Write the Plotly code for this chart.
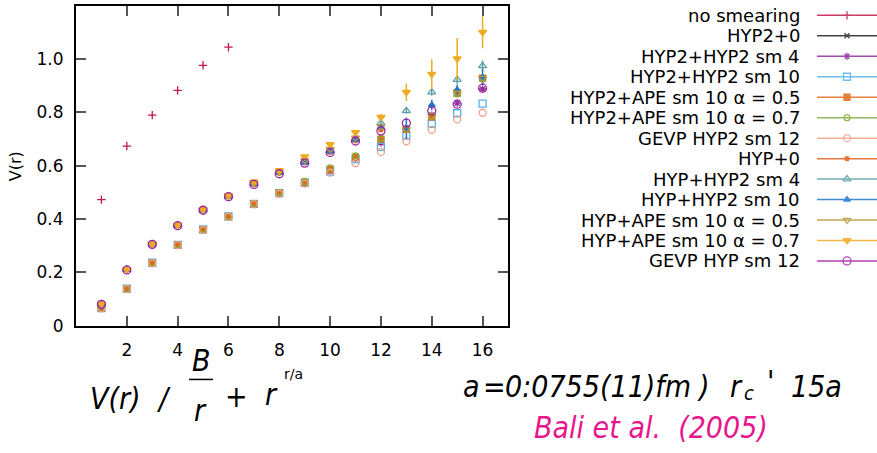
import plotly.graph_objects as go

# ---------------- data ----------------
r_all = list(range(1, 17))
r_short = list(range(1, 13))
r_nosm = [1, 2, 3, 4, 5, 6]

v_no_smearing = [0.473, 0.674, 0.790, 0.883, 0.977, 1.045]

v_hyp2_0 = [0.065, 0.138, 0.235, 0.303, 0.360, 0.409, 0.456, 0.498, 0.537, 0.580, 0.627, 0.690]
v_hyp2_hyp2_sm4 = [0.065, 0.138, 0.235, 0.303, 0.360, 0.409, 0.456, 0.498, 0.537, 0.582, 0.628, 0.686, 0.735, 0.790, 0.835, 0.888]
v_hyp2_hyp2_sm10 = [0.066, 0.139, 0.236, 0.303, 0.361, 0.410, 0.457, 0.497, 0.536, 0.578, 0.625, 0.671, 0.713, 0.757, 0.797, 0.833]
v_hyp2_ape05 = [0.065, 0.138, 0.235, 0.303, 0.360, 0.409, 0.456, 0.498, 0.538, 0.586, 0.632, 0.700, 0.737, 0.784, 0.873, 0.929]
v_hyp2_ape07 = [0.066, 0.139, 0.236, 0.304, 0.361, 0.410, 0.458, 0.500, 0.541, 0.592, 0.637, 0.702, 0.740, 0.787, 0.870, 0.926]
v_gevp_hyp2 = [0.065, 0.137, 0.234, 0.302, 0.359, 0.408, 0.455, 0.495, 0.533, 0.574, 0.610, 0.652, 0.692, 0.735, 0.774, 0.799]

v_hyp_0 = [0.080, 0.209, 0.305, 0.375, 0.433, 0.484, 0.530, 0.572, 0.611, 0.651, 0.694, 0.735]
v_hyp_hyp2_sm4 = [0.081, 0.210, 0.306, 0.376, 0.434, 0.486, 0.533, 0.575, 0.615, 0.657, 0.702, 0.760, 0.806, 0.876, 0.923, 0.975]
e_hyp_hyp2_sm4 = [0.002, 0.002, 0.002, 0.003, 0.003, 0.003, 0.004, 0.004, 0.005, 0.005, 0.006, 0.008, 0.010, 0.012, 0.015, 0.020]
v_hyp_hyp2_sm10 = [0.080, 0.209, 0.305, 0.375, 0.433, 0.485, 0.531, 0.573, 0.612, 0.653, 0.697, 0.745, 0.741, 0.828, 0.885, 0.932]
e_hyp_hyp2_sm10 = [0.002, 0.002, 0.002, 0.003, 0.003, 0.003, 0.004, 0.004, 0.005, 0.005, 0.006, 0.008, 0.040, 0.020, 0.020, 0.030]
v_hyp_ape05 = [0.081, 0.210, 0.306, 0.376, 0.434, 0.486, 0.534, 0.577, 0.620, 0.662, 0.705, 0.748, 0.737, 0.785, 0.873, 0.929]
v_hyp_ape07 = [0.082, 0.211, 0.307, 0.378, 0.436, 0.489, 0.540, 0.583, 0.634, 0.680, 0.725, 0.782, 0.876, 0.944, 1.002, 1.101]
e_hyp_ape07 = [0.003, 0.003, 0.003, 0.004, 0.004, 0.005, 0.006, 0.006, 0.007, 0.008, 0.010, 0.012, 0.033, 0.056, 0.077, 0.060]
v_gevp_hyp = [0.080, 0.209, 0.305, 0.375, 0.433, 0.484, 0.530, 0.570, 0.610, 0.650, 0.693, 0.731, 0.760, 0.806, 0.831, 0.891]

x_ticks = [2, 4, 6, 8, 10, 12, 14, 16]
y_ticks = [0, 0.2, 0.4, 0.6, 0.8, 1.0]
y_ticktext = ["0", "0.2", "0.4", "0.6", "0.8", "1.0"]

series = [
    ("no smearing", r_nosm, v_no_smearing, None, "#c0184a", "cross-thin-open", 6),
    ("HYP2+0", r_short, v_hyp2_0, None, "#222222", "x-thin-open", 5),
    ("HYP2+HYP2 sm 4", r_all, v_hyp2_hyp2_sm4, None, "#8e2d9e", "asterisk-open", 6),
    ("HYP2+HYP2 sm 10", r_all, v_hyp2_hyp2_sm10, None, "#56b4e9", "square-open", 7),
    ("HYP2+APE sm 10 α = 0.5", r_all, v_hyp2_ape05, None, "#e06a1b", "square", 6),
    ("HYP2+APE sm 10 α = 0.7", r_all, v_hyp2_ape07, None, "#7fb03a", "circle-open", 6),
    ("GEVP HYP2 sm 12", r_all, v_gevp_hyp2, None, "#f4a08a", "circle-open", 7),
    ("HYP+0", r_short, v_hyp_0, None, "#e55e1a", "circle", 4),
    ("HYP+HYP2 sm 4", r_all, v_hyp_hyp2_sm4, e_hyp_hyp2_sm4, "#5a9ea6", "triangle-up-open", 7),
    ("HYP+HYP2 sm 10", r_all, v_hyp_hyp2_sm10, e_hyp_hyp2_sm10, "#1f78c8", "triangle-up", 6),
    ("HYP+APE sm 10 α = 0.5", r_all, v_hyp_ape05, None, "#b8963a", "triangle-down-open", 7),
    ("HYP+APE sm 10 α = 0.7", r_all, v_hyp_ape07, e_hyp_ape07, "#eeab22", "triangle-down", 7),
    ("GEVP HYP sm 12", r_all, v_gevp_hyp, None, "#a020a8", "circle-open", 8),
]

W, H = 877, 453
PX_L, PX_R, PX_T, PX_B = 76, 508, 6, 333


def px(x):
    return x / W


def py(y):
    return 1 - y / H


fig = go.Figure()

for name, xs, ys, es, col, sym, sz in series:
    err = None
    if es is not None:
        err = dict(type="data", array=es, visible=True, color=col, thickness=1.5, width=0)
    fig.add_trace(go.Scatter(
        x=xs, y=ys, mode="markers", name=name, showlegend=False,
        marker=dict(symbol=sym, size=sz, color=col, line=dict(color=col, width=1.3)),
        error_y=err, xaxis="x", yaxis="y",
    ))

# custom gnuplot-style key (text right, sample line + symbol on the right)
KEY_TEXT_X = 802
KEY_Y0 = 15.7
KEY_DY = 20.93
KEY_L, KEY_M, KEY_R = 817, 847, 877
annotations = []
for i, (name, xs, ys, es, col, sym, sz) in enumerate(series):
    yk = KEY_Y0 + KEY_DY * i
    fig.add_trace(go.Scatter(
        x=[KEY_L, KEY_M, KEY_R], y=[yk, yk, yk], mode="lines+markers", showlegend=False,
        line=dict(color=col, width=1.5),
        marker=dict(symbol=sym, size=sz, color=col, opacity=[0, 1, 0], line=dict(color=col, width=1.3)),
        xaxis="x2", yaxis="y2", opacity=0.85, hoverinfo="skip",
    ))
    annotations.append(dict(
        x=px(KEY_TEXT_X), y=py(yk), xref="paper", yref="paper", text=name,
        showarrow=False, xanchor="right", yanchor="middle",
        font=dict(family="DejaVu Sans", size=18, color="black"),
    ))

# axis titles
annotations.append(dict(x=px(15), y=py(170), xref="paper", yref="paper", text="V(r)",
                        textangle=-90, showarrow=False, xanchor="center", yanchor="middle",
                        font=dict(family="DejaVu Sans", size=16, color="black")))
annotations.append(dict(x=px(293), y=py(382), xref="paper", yref="paper", text="r/a",
                        showarrow=False, xanchor="center", yanchor="middle",
                        font=dict(family="DejaVu Sans", size=14, color="black")))

# formula texts below the plot
FF = "DejaVu Sans Condensed, Liberation Sans Narrow, Liberation Sans"
FS = 30
DY = 9


def txt(x, y, s, size=FS, color="black", anchor="center"):
    annotations.append(dict(x=px(x), y=py(y + DY), xref="paper", yref="paper", text="<i>" + s + "</i>",
                            showarrow=False, xanchor=anchor, yanchor="middle",
                            font=dict(family=FF, size=size, color=color)))


txt(116, 398, "V(r)")
txt(164, 398, "/")
txt(201, 360, "B")
txt(200, 411, "r")
txt(236, 396, "+")
txt(271, 394, "r")

txt(471, 386, "a")
txt(494, 386, "=")
txt(598, 386, "0:0755(11)fm")
txt(703, 386, ")")
txt(736, 386, "r")
txt(749, 393, "c", size=20)
txt(770, 381, "'")
txt(816, 386, "15a")
txt(651, 428, "Bali et al.  (2005)", color="#e8168c")

shapes = [dict(type="line", xref="paper", yref="paper", x0=px(189), x1=px(213), y0=py(388), y1=py(388),
               line=dict(color="black", width=1.5))]

axis_common = dict(showgrid=False, zeroline=False, showline=True, linecolor="black", linewidth=2,
                   mirror="ticks", ticks="inside", ticklen=10, tickwidth=1.5, tickcolor="#555555",
                   tickfont=dict(family="DejaVu Sans", size=17, color="black"))

fig.update_layout(
    width=W, height=H, margin=dict(l=0, r=0, t=0, b=0),
    paper_bgcolor="white", plot_bgcolor="rgba(0,0,0,0)",
    showlegend=False,
    xaxis=dict(domain=[px(PX_L), px(PX_R)], range=[0, 17], tickvals=x_ticks, anchor="y",
               ticklabelstandoff=8, **axis_common),
    yaxis=dict(domain=[py(PX_B), py(PX_T)], range=[0, 1.2], tickvals=y_ticks, ticktext=y_ticktext,
               anchor="x", ticklabelstandoff=7, **axis_common),
    xaxis2=dict(domain=[0, 1], range=[0, W], visible=False, anchor="y2", fixedrange=True),
    yaxis2=dict(domain=[0, 1], range=[H, 0], visible=False, anchor="x2", fixedrange=True),
    annotations=annotations,
    shapes=shapes,
)

fig.write_html("out.html")
